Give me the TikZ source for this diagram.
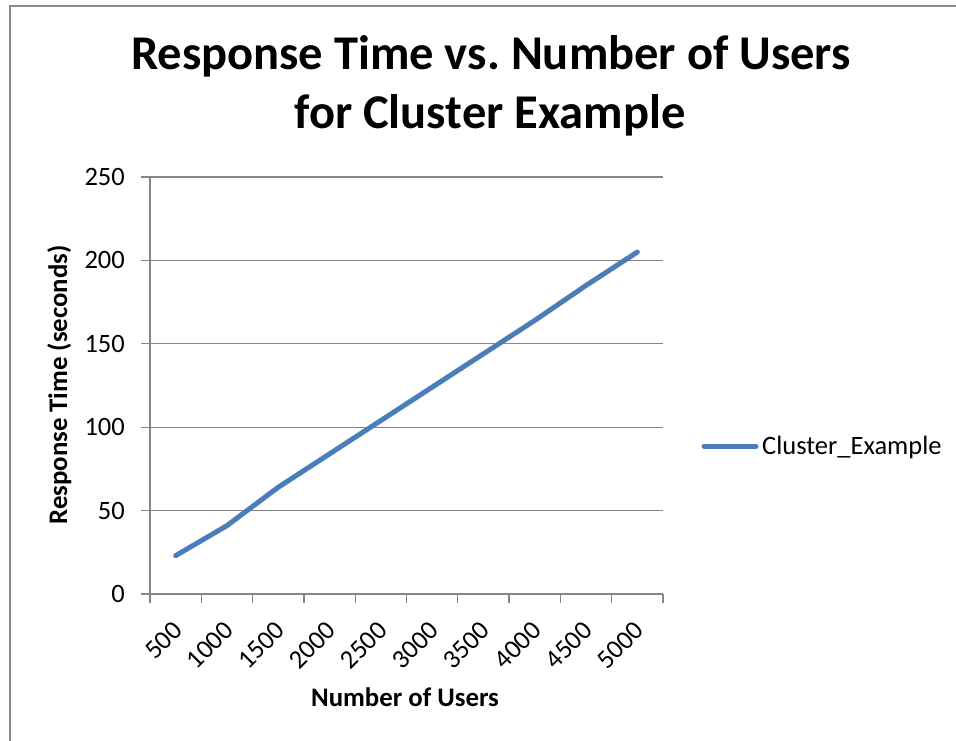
\documentclass[tikz,border=0pt]{standalone}
\usepackage{fontspec}
\setmainfont{Carlito}
\frenchspacing
\definecolor{gridgray}{HTML}{868686}
\definecolor{framegray}{HTML}{8C8C8C}
\definecolor{serieblue}{HTML}{4A7EBB}
\begin{document}
\begin{tikzpicture}[x=1pt,y=-1pt,
  gridline/.style={draw=gridgray,line width=1.3pt},
  tick/.style={draw=gridgray,line width=1.3pt},
  series/.style={draw=serieblue,line width=5pt,line cap=round,line join=round},
  ticklab/.style={inner sep=0pt,font=\fontsize{26.5}{31}\selectfont},
  axlab/.style={inner sep=0pt,font=\fontsize{26.8}{32}\selectfont\bfseries},
  titlelab/.style={inner sep=0pt,font=\fontsize{48.5}{58}\selectfont\bfseries}]
\useasboundingbox (0,0) rectangle (956,740);
\fill[white] (0,0) rectangle (956,740);
% frame
\draw[framegray,line width=2pt] (10,742) -- (10,6) -- (958,6);
% title
\node[titlelab,anchor=base] (t1) at (491,69.5) {Response Time vs. Number of Users};
\node[titlelab,anchor=base] (t2) at (490,128.5) {for Cluster Example};
% gridlines and y ticks
\foreach \v/\n in {0/y0,50/y1,100/y2,150/y3,200/y4,250/y5}{
  \pgfmathsetmacro{\yy}{594-\v*1.668}
  \draw[gridline] (141,\yy) -- (663,\yy);
  \node[ticklab,anchor=east] (\n) at (125,\yy) {\v};
}
% axes
\draw[gridline] (150,177) -- (150,594);
% x ticks
\foreach \k in {0,...,10}{
  \pgfmathsetmacro{\xx}{150+\k*51.3}
  \draw[tick] (\xx,594) -- (\xx,603);
}
% x tick labels
\foreach \lab [count=\k from 0] in {500,1000,1500,2000,2500,3000,3500,4000,4500,5000}{
  \pgfmathsetmacro{\xx}{175.65+\k*51.3+2}
  \node[ticklab,anchor=east,rotate=45] (x\k) at (\xx,626) {\lab};
}
% axis titles
\node[axlab,anchor=base,rotate=90] (ylab) at (67,385) {Response Time (seconds)};
\node[axlab,anchor=base] (xlab) at (405,706) {Number of Users};
% data
\foreach \v [count=\k from 0] in {23,41,64,84,104,124,144,164,185,205}{
  \pgfmathsetmacro{\xx}{175.65+\k*51.3}
  \pgfmathsetmacro{\yy}{594-\v*1.668}
  \coordinate (p\k) at (\xx,\yy);
}
\draw[series] (p0) -- (p1) -- (p2) -- (p3) -- (p4) -- (p5) -- (p6) -- (p7) -- (p8) -- (p9);
% legend
\coordinate (la) at (704,446);
\coordinate (lb) at (756,446);
\draw[series] (la) -- (lb);
\node[ticklab,anchor=base west] (leg) at (762,454) {Cluster\_Example};
\end{tikzpicture}
\end{document}
